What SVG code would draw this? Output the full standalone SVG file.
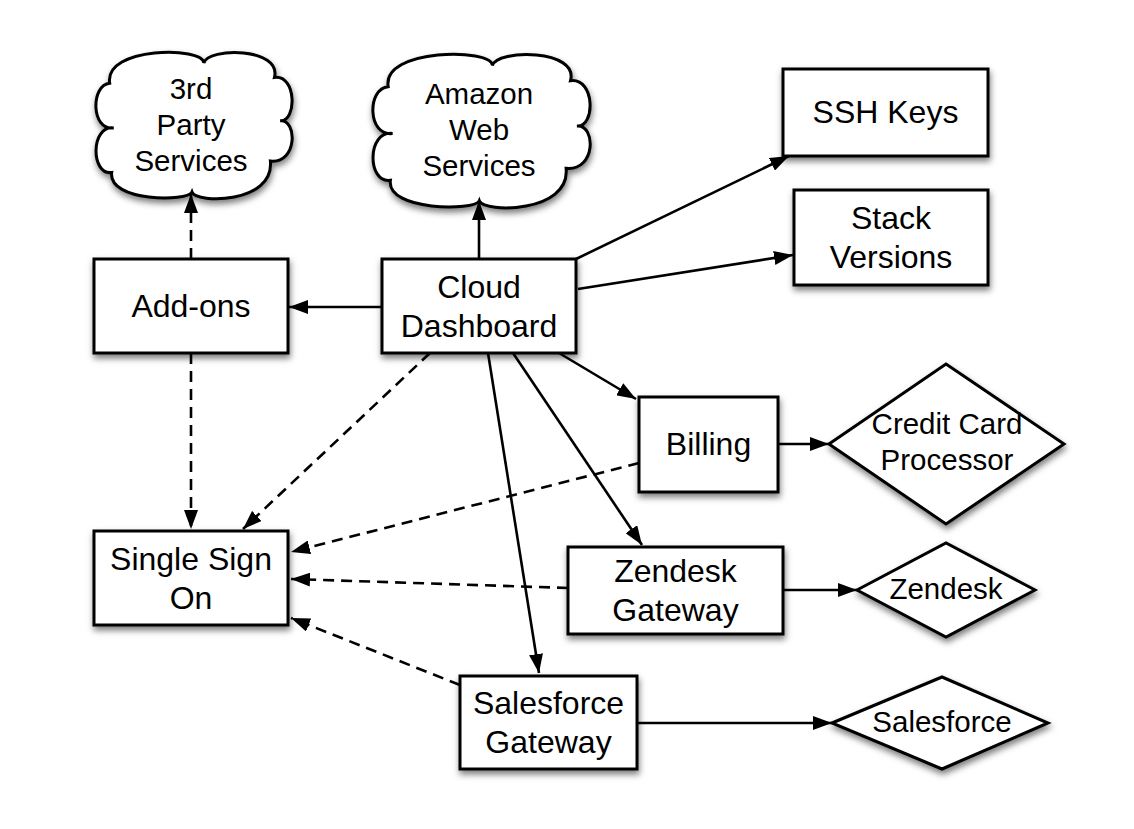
<svg xmlns="http://www.w3.org/2000/svg" width="1134" height="829" viewBox="0 0 1134 829">
<defs>
<filter id="sh" x="-20%" y="-20%" width="140%" height="150%">
<feDropShadow dx="1" dy="4" stdDeviation="3" flood-color="#000" flood-opacity="0.5"/>
</filter>
<marker id="ah" markerUnits="userSpaceOnUse" markerWidth="19" markerHeight="14" refX="19" refY="7" orient="auto">
<path d="M0,0 L19,7 L0,14 Z" fill="#000"/>
</marker>
</defs>
<style>
.shape{fill:#fff;stroke:#000;stroke-width:3;filter:url(#sh)}
.lbl{font-family:"Liberation Sans",Arial,sans-serif;font-size:32px;fill:#000;text-anchor:middle}
.sm{font-size:29.5px}
.ln{fill:none;stroke:#000;stroke-width:2.6;marker-end:url(#ah)}
.d{stroke-dasharray:11,7}
</style>
<rect width="1134" height="829" fill="#fff"/>

<g id="connectors">
<line class="ln" x1="479" y1="259" x2="479" y2="201"/>
<line class="ln" x1="382" y1="307" x2="289" y2="307"/>
<line class="ln d" x1="191" y1="259" x2="191" y2="194"/>
<line class="ln" x1="576" y1="259" x2="789" y2="156"/>
<line class="ln" x1="578" y1="289" x2="793" y2="255"/>
<line class="ln" x1="559" y1="353" x2="636" y2="399"/>
<line class="ln" x1="513" y1="353" x2="642" y2="545"/>
<line class="ln" x1="488" y1="353" x2="539" y2="673"/>
<line class="ln d" x1="430" y1="353" x2="243" y2="529"/>
<line class="ln d" x1="191" y1="353" x2="191" y2="529"/>
<line class="ln d" x1="639" y1="463" x2="291" y2="552"/>
<line class="ln d" x1="568" y1="588" x2="291" y2="579"/>
<line class="ln d" x1="460" y1="685" x2="291" y2="618"/>
<line class="ln" x1="778" y1="444" x2="829" y2="444"/>
<line class="ln" x1="783" y1="590" x2="857" y2="590"/>
<line class="ln" x1="637" y1="723" x2="832" y2="723"/>
</g>

<g id="third-party">
<path class="shape" d="M109.7,83.2 C103.8,46.2 203.8,46.2 203.8,63.1 C207.7,47.2 282.2,47.2 274.4,77.5 C296.9,74.6 296.9,122.1 280.2,120.7 C297.5,119.2 297.5,163.9 270.4,161 C274.4,203.8 196,203.8 192,192 C188.1,201.9 107.8,201.9 111.7,172.5 C90.5,175.4 90.5,125 113.6,127.9 C90.7,130.8 90.7,84.7 109.7,83.2 Z"/>
<text class="lbl sm" x="191" y="99">3rd</text>
<text class="lbl sm" x="191" y="135">Party</text>
<text class="lbl sm" x="191" y="171">Services</text>
</g>

<g id="aws">
<path class="shape" d="M388.2,86.7 C381.7,47.9 492.4,47.9 492.4,65.6 C496.7,49 579.2,49 570.5,80.7 C595.4,77.7 595.4,127.5 577,126 C596.1,124.5 596.1,171.3 566.1,168.3 C570.5,213.2 483.7,213.2 479.3,200.7 C475,211.1 386,211.1 390.4,180.3 C366.9,183.4 366.9,130.5 392.5,133.5 C367.1,136.5 367.1,88.2 388.2,86.7 Z"/>
<text class="lbl sm" x="479" y="104">Amazon</text>
<text class="lbl sm" x="479" y="140">Web</text>
<text class="lbl sm" x="479" y="176">Services</text>
</g>

<g id="ssh-keys">
<rect class="shape" x="783" y="69" width="205" height="87"/>
<text class="lbl" x="885.5" y="123">SSH Keys</text>
</g>

<g id="stack-versions">
<rect class="shape" x="794" y="190" width="194" height="95"/>
<text class="lbl" x="891" y="229">Stack</text>
<text class="lbl" x="891" y="268">Versions</text>
</g>

<g id="add-ons">
<rect class="shape" x="94" y="259" width="194" height="94"/>
<text class="lbl" x="191" y="317">Add-ons</text>
</g>

<g id="cloud-dashboard">
<rect class="shape" x="382" y="259" width="194" height="94"/>
<text class="lbl" x="479" y="298">Cloud</text>
<text class="lbl" x="479" y="337">Dashboard</text>
</g>

<g id="billing">
<rect class="shape" x="639" y="397" width="139" height="95"/>
<text class="lbl" x="708.5" y="455">Billing</text>
</g>

<g id="credit-card-processor">
<polygon class="shape" points="829,444 946,364 1064,444 946,524"/>
<text class="lbl sm" x="947" y="434">Credit Card</text>
<text class="lbl sm" x="947" y="470">Processor</text>
</g>

<g id="single-sign-on">
<rect class="shape" x="94" y="531" width="194" height="94"/>
<text class="lbl" x="191" y="570">Single Sign</text>
<text class="lbl" x="191" y="609">On</text>
</g>

<g id="zendesk-gateway">
<rect class="shape" x="568" y="547" width="215" height="87"/>
<text class="lbl" x="675.5" y="582">Zendesk</text>
<text class="lbl" x="675.5" y="621">Gateway</text>
</g>

<g id="zendesk">
<polygon class="shape" points="857,590 946,543 1035,590 946,637"/>
<text class="lbl sm" x="946" y="599">Zendesk</text>
</g>

<g id="salesforce-gateway">
<rect class="shape" x="460" y="676" width="177" height="93"/>
<text class="lbl" x="548.5" y="714">Salesforce</text>
<text class="lbl" x="548.5" y="753">Gateway</text>
</g>

<g id="salesforce">
<polygon class="shape" points="832,723 942,677 1048,723 942,769"/>
<text class="lbl sm" x="942" y="732">Salesforce</text>
</g>
</svg>
